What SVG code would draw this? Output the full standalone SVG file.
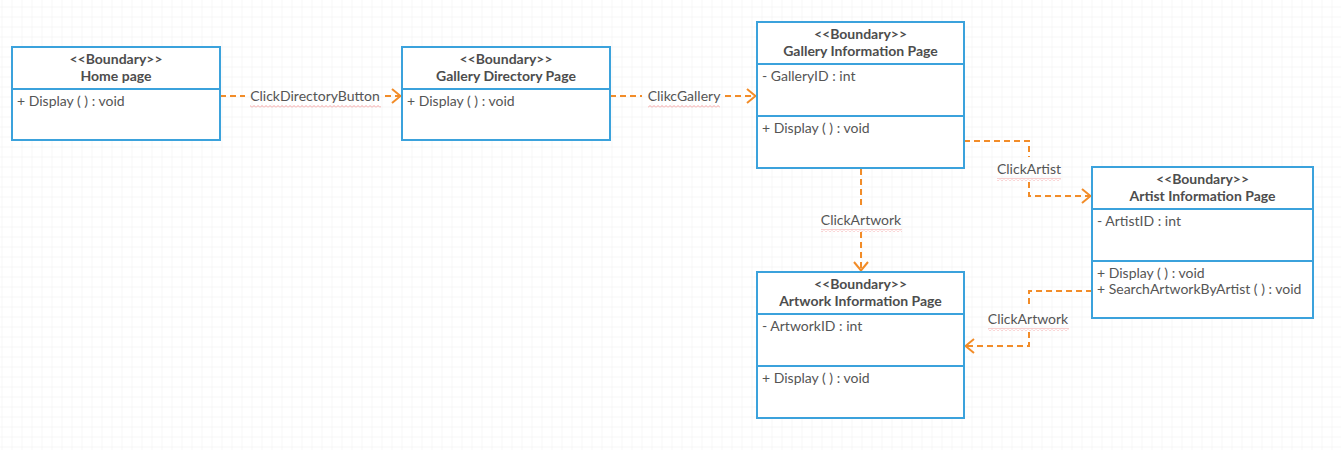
<svg xmlns="http://www.w3.org/2000/svg" width="1341" height="450" viewBox="0 0 1341 450">
  <defs>
    <pattern id="minor" x="1.5" y="6.5" width="10" height="10" patternUnits="userSpaceOnUse">
      <path d="M0,0 H10 M0,0 V10" fill="none" stroke="#efefef" stroke-width="1"/>
    </pattern>
    <pattern id="squig" x="0" y="0" width="4" height="3" patternUnits="userSpaceOnUse">
      <path d="M0,2.5 L2,0.5 L4,2.5" fill="none" stroke="#f08a8a" stroke-width="0.8"/>
    </pattern>
    <marker id="arr" viewBox="0 0 12 16" refX="11" refY="8" markerWidth="12" markerHeight="16" markerUnits="userSpaceOnUse" orient="auto">
      <path d="M2,1 L10.5,8 L2,15" fill="none" stroke="#f28c28" stroke-width="2"/>
    </marker>
    <style>
      .box { fill: #ffffff; stroke: #3ba2dc; stroke-width: 2; }
      .div { stroke: #3ba2dc; stroke-width: 2; }
      .hd { font-family: Lato, "Liberation Sans", sans-serif; font-size: 14px; font-weight: bold; fill: #4d4d4d; text-anchor: middle; }
      .at { font-family: Lato, "Liberation Sans", sans-serif; font-size: 14px; fill: #555555; }
      .lb { font-family: Lato, "Liberation Sans", sans-serif; font-size: 14px; fill: #555555; text-anchor: middle; }
      .cn { fill: none; stroke: #f28c28; stroke-width: 2; stroke-dasharray: 6 4; }
      .sq { fill: url(#squig); }
    </style>
  </defs>
  <rect x="0" y="0" width="1341" height="450" fill="#ffffff"/>
  <rect x="0" y="0" width="1341" height="450" fill="url(#minor)"/>

  <g id="connectors">
    <line class="cn" x1="220" y1="96" x2="245" y2="96"/>
    <line class="cn" x1="385" y1="96" x2="401" y2="96" marker-end="url(#arr)"/>
    <line class="cn" x1="610" y1="96" x2="642" y2="96"/>
    <line class="cn" x1="725" y1="96" x2="756" y2="96" marker-end="url(#arr)"/>
    <polyline class="cn" points="964,141 1029,141 1029,157"/>
    <polyline class="cn" points="1029,182 1029,196 1091,196" marker-end="url(#arr)"/>
    <line class="cn" x1="861" y1="169" x2="861" y2="208"/>
    <line class="cn" x1="861" y1="232" x2="861" y2="271" marker-end="url(#arr)"/>
    <polyline class="cn" points="1092,291 1029,291 1029,306"/>
    <polyline class="cn" points="1029,332 1029,346 965,346" marker-end="url(#arr)"/>
    <text class="lb" x="315" y="101">ClickDirectoryButton</text>
    <rect class="sq" x="250" y="105" width="131" height="3"/>
    <text class="lb" x="684" y="101">ClikcGallery</text>
    <rect class="sq" x="648" y="105" width="72" height="3"/>
    <text class="lb" x="1029" y="174">ClickArtist</text>
    <rect class="sq" x="997" y="178" width="64" height="3"/>
    <text class="lb" x="861" y="225">ClickArtwork</text>
    <rect class="sq" x="821" y="229" width="81" height="3"/>
    <text class="lb" x="1028" y="324">ClickArtwork</text>
    <rect class="sq" x="988" y="328" width="81" height="3"/>
  </g>

  <g id="home">
    <rect class="box" x="12" y="47" width="208" height="93"/>
    <line class="div" x1="12" y1="89" x2="220" y2="89"/>
    <text class="hd" x="116" y="64">&lt;&lt;Boundary&gt;&gt;</text>
    <text class="hd" x="116" y="81">Home page</text>
    <text class="at" x="17" y="106">+ Display ( ) : void</text>
  </g>

  <g id="gallery-directory">
    <rect class="box" x="402" y="47" width="208" height="93"/>
    <line class="div" x1="402" y1="89" x2="610" y2="89"/>
    <text class="hd" x="506" y="64">&lt;&lt;Boundary&gt;&gt;</text>
    <text class="hd" x="506" y="81">Gallery Directory Page</text>
    <text class="at" x="407" y="106">+ Display ( ) : void</text>
  </g>

  <g id="gallery-info">
    <rect class="box" x="757" y="22" width="207" height="146"/>
    <line class="div" x1="757" y1="64" x2="964" y2="64"/>
    <line class="div" x1="757" y1="116" x2="964" y2="116"/>
    <text class="hd" x="860.5" y="39">&lt;&lt;Boundary&gt;&gt;</text>
    <text class="hd" x="860.5" y="56">Gallery Information Page</text>
    <text class="at" x="762" y="81">- GalleryID : int</text>
    <text class="at" x="762" y="133">+ Display ( ) : void</text>
  </g>

  <g id="artist-info">
    <rect class="box" x="1092" y="167" width="221" height="151"/>
    <line class="div" x1="1092" y1="209" x2="1313" y2="209"/>
    <line class="div" x1="1092" y1="261" x2="1313" y2="261"/>
    <text class="hd" x="1202.5" y="184">&lt;&lt;Boundary&gt;&gt;</text>
    <text class="hd" x="1202.5" y="201">Artist Information Page</text>
    <text class="at" x="1097" y="226">- ArtistID : int</text>
    <text class="at" x="1097" y="278">+ Display ( ) : void</text>
    <text class="at" x="1097" y="294">+ SearchArtworkByArtist ( ) : void</text>
  </g>

  <g id="artwork-info">
    <rect class="box" x="757" y="272" width="207" height="146"/>
    <line class="div" x1="757" y1="314" x2="964" y2="314"/>
    <line class="div" x1="757" y1="366" x2="964" y2="366"/>
    <text class="hd" x="860.5" y="289">&lt;&lt;Boundary&gt;&gt;</text>
    <text class="hd" x="860.5" y="306">Artwork Information Page</text>
    <text class="at" x="762" y="331">- ArtworkID : int</text>
    <text class="at" x="762" y="383">+ Display ( ) : void</text>
  </g>
</svg>
